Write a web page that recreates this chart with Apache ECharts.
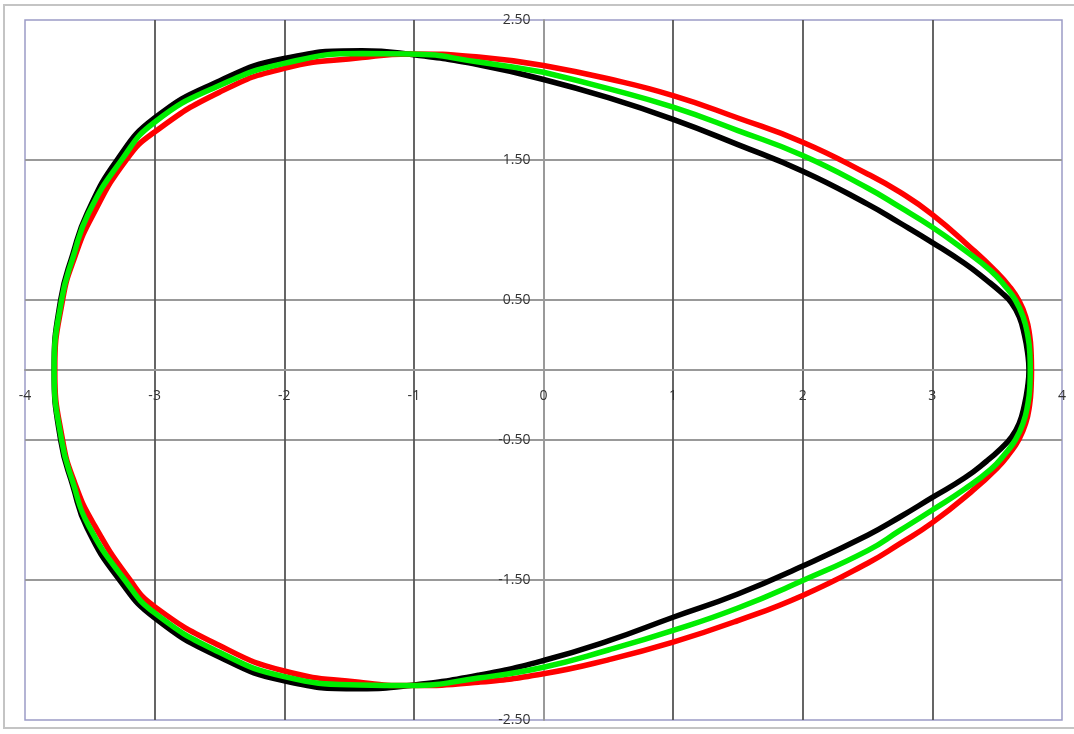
<!DOCTYPE html>
<html>
<head>
<meta charset="utf-8">
<script src="https://cdn.jsdelivr.net/npm/echarts@6/dist/echarts.min.js"></script>
<style>
html,body{margin:0;padding:0;background:#fff;overflow:hidden;}
#chart{width:1074px;height:734px;}
</style>
</head>
<body>
<div id="chart"></div>
<script>
// Axis ticks
const xTicks = [-4, -3, -2, -1, 0, 1, 2, 3, 4];
const yTicks = [-2.5, -1.5, -0.5, 0.5, 1.5, 2.5];

// Curves: [x, y], going clockwise from the top at x = 0
const blackCurve = [
  [0,2.075],[0.5,1.945],[1,1.79],[1.5,1.61],[2,1.42],[2.5,1.185],[2.75,1.05],[3,0.91],[3.25,0.76],[3.42,0.64],[3.53,0.555],[3.61,0.48],[3.67,0.38],[3.71,0.25],[3.735,0.12],[3.745,0],
  [3.735,-0.12],[3.71,-0.25],[3.67,-0.38],[3.61,-0.48],[3.53,-0.56],[3.42,-0.65],[3.25,-0.77],[3,-0.91],[2.75,-1.05],[2.5,-1.18],[2,-1.40],[1.5,-1.60],[1,-1.766],[0.5,-1.935],[0,-2.075],
  [-0.5,-2.18],[-1.03,-2.254],[-1.42,-2.277],[-2,-2.22],[-2.5,-2.05],[-3,-1.77],[-3.27,-1.5],[-3.52,-1.13],[-3.63,-0.83],[-3.725,-0.5],[-3.775,0],
  [-3.725,0.5],[-3.63,0.83],[-3.52,1.12],[-3.29,1.5],[-3,1.80],[-2.5,2.065],[-2,2.225],[-1.4,2.28],[-1.03,2.255],[-0.5,2.18],[0,2.075]
];
const redCurve = [
  [0,2.175],[0.5,2.08],[1,1.96],[1.5,1.80],[2,1.627],[2.5,1.40],[2.75,1.27],[3,1.11],[3.3,0.87],[3.5,0.695],[3.6,0.59],[3.665,0.5],[3.72,0.38],[3.75,0.25],[3.762,0.12],[3.765,0],
  [3.762,-0.12],[3.75,-0.25],[3.72,-0.38],[3.665,-0.5],[3.6,-0.59],[3.5,-0.7],[3.3,-0.87],[3,-1.09],[2.75,-1.24],[2.5,-1.38],[2,-1.61],[1.5,-1.79],[1,-1.944],[0.5,-2.07],[0,-2.17],
  [-0.5,-2.23],[-1.03,-2.254],[-1.42,-2.23],[-2,-2.15],[-2.5,-1.968],[-3,-1.69],[-3.19,-1.5],[-3.47,-1.1],[-3.615,-0.81],[-3.71,-0.5],[-3.77,0],
  [-3.71,0.5],[-3.615,0.81],[-3.48,1.10],[-3.22,1.5],[-3,1.70],[-2.5,1.984],[-2,2.155],[-1.4,2.232],[-1.03,2.258],[-0.5,2.235],[0,2.175]
];
const greenCurve = [
  [0,2.127],[0.5,2.01],[1,1.877],[1.5,1.71],[2,1.532],[2.5,1.30],[2.75,1.163],[3,1.02],[3.25,0.855],[3.45,0.71],[3.56,0.6],[3.64,0.5],[3.70,0.38],[3.735,0.25],[3.752,0.12],[3.755,0],
  [3.752,-0.12],[3.735,-0.25],[3.70,-0.38],[3.64,-0.5],[3.56,-0.6],[3.45,-0.71],[3.25,-0.85],[3,-1.0],[2.75,-1.146],[2.5,-1.29],[2,-1.504],[1.5,-1.70],[1,-1.86],[0.5,-2.0],[0,-2.123],
  [-0.5,-2.2],[-1.03,-2.254],[-1.42,-2.25],[-2,-2.19],[-2.5,-2.016],[-3,-1.735],[-3.23,-1.5],[-3.51,-1.11],[-3.628,-0.81],[-3.718,-0.5],[-3.775,0],
  [-3.718,0.5],[-3.628,0.81],[-3.51,1.12],[-3.255,1.5],[-3,1.77],[-2.5,2.032],[-2,2.19],[-1.4,2.26],[-1.03,2.258],[-0.5,2.20],[0,2.127]
];

const chart = echarts.init(document.getElementById('chart'), null, {renderer: 'canvas'});
const labelFont = {fontFamily: 'Open Sans', fontSize: 14, color: '#333333'};

const gridBox = {left: 25, right: 12, top: 20, bottom: 14};
const W = 1074, H = 734;
const plotW = W - gridBox.left - gridBox.right;
const plotH = H - gridBox.top - gridBox.bottom;
const xMin = xTicks[0], xMax = xTicks[xTicks.length - 1];
const yMin = yTicks[0], yMax = yTicks[yTicks.length - 1];
// shift each axis (with its labels) onto the other axis' zero
const yAxisOffset = -plotW * (0 - xMin) / (xMax - xMin);
const xAxisOffset = -plotH * (0 - yMin) / (yMax - yMin);

function curveSeries(name, data, color) {
  return {
    name: name,
    type: 'line',
    data: data,
    smooth: 0.5,
    showSymbol: false,
    symbol: 'none',
    lineStyle: {color: color, width: 5.5},
    animation: false,
    z: 3
  };
}

chart.setOption({
  animation: false,
  backgroundColor: '#fff',
  graphic: [{
    type: 'rect',
    shape: {x: 4, y: 5, width: 1100, height: 723},
    style: {fill: 'none', stroke: '#c4c4c4', lineWidth: 2},
    silent: true,
    z: -10
  }],
  grid: Object.assign({
    show: true,
    borderColor: '#9c9cc6',
    borderWidth: 1.5,
    backgroundColor: 'transparent',
    containLabel: false,
    outerBoundsMode: 'none'
  }, gridBox),
  xAxis: {
    type: 'value',
    position: 'bottom',
    offset: xAxisOffset,
    min: xMin,
    max: xMax,
    interval: 1,
    axisLine: {show: true, onZero: false, lineStyle: {color: '#999', width: 1.8}},
    axisTick: {show: false},
    axisLabel: Object.assign({margin: 19, formatter: v => String(v)}, labelFont),
    splitLine: {show: true, showMinLine: false, showMaxLine: false,
      lineStyle: {color: ['#555', '#555', '#555', '#999', '#555', '#555', '#555'], width: 1.8}}
  },
  yAxis: {
    type: 'value',
    position: 'left',
    offset: yAxisOffset,
    min: yMin,
    max: yMax,
    interval: 1,
    axisLine: {show: true, onZero: false, lineStyle: {color: '#999', width: 1.8}},
    axisTick: {show: false},
    axisLabel: Object.assign({margin: 13, formatter: v => v.toFixed(2)}, labelFont),
    splitLine: {show: true, showMinLine: false, showMaxLine: false, lineStyle: {color: '#999', width: 1.8}}
  },
  series: [
    curveSeries('Black', blackCurve, '#000000'),
    curveSeries('Red', redCurve, '#ff0000'),
    curveSeries('Green', greenCurve, '#00ee00')
  ]
});
</script>
</body>
</html>
